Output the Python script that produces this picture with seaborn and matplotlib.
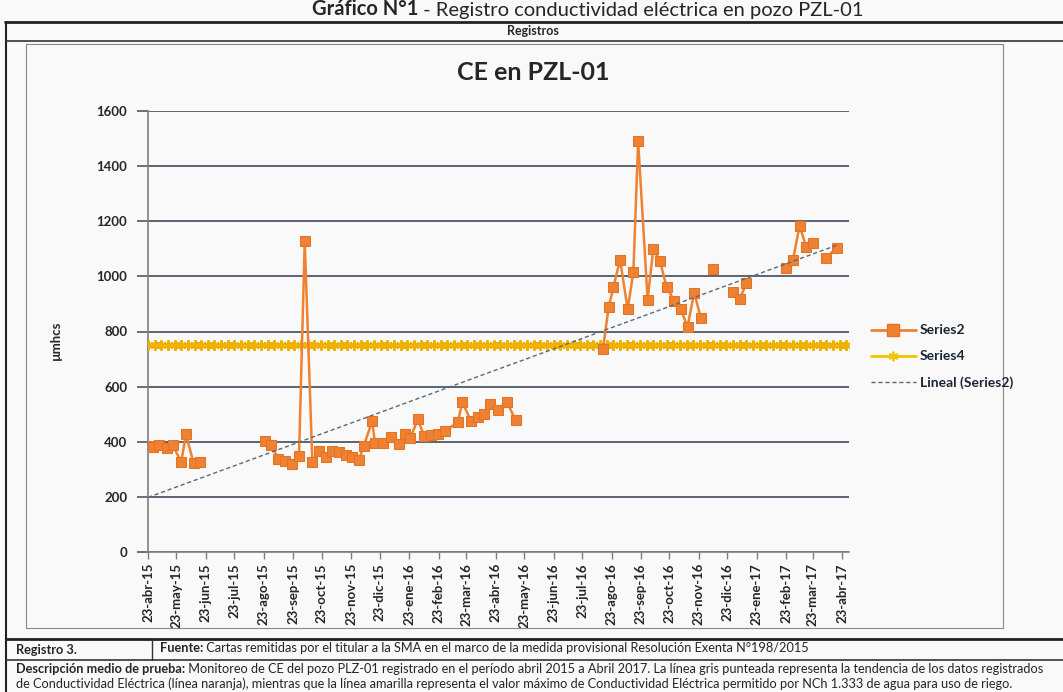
import numpy as np
import pandas as pd
import seaborn as sns
import matplotlib.pyplot as plt
import matplotlib.dates as mdates
from matplotlib.lines import Line2D

# ---------------------------------------------
# Datos (CE en umhos/cm)
# ---------------------------------------------
fechas_ce = [
    "2015-04-23", "2015-04-28", "2015-05-05", "2015-05-13", "2015-05-19",
    "2015-05-28", "2015-06-02", "2015-06-10", "2015-06-17",
    "2015-08-24", "2015-08-31", "2015-09-07", "2015-09-14", "2015-09-22",
    "2015-09-29", "2015-10-05", "2015-10-13", "2015-10-20", "2015-10-27",
    "2015-11-03", "2015-11-10", "2015-11-17", "2015-11-24", "2015-12-01",
    "2015-12-06", "2015-12-15", "2015-12-18", "2015-12-26", "2016-01-04",
    "2016-01-12", "2016-01-19", "2016-01-24", "2016-02-01", "2016-02-08",
    "2016-02-15", "2016-02-22", "2016-03-01", "2016-03-14", "2016-03-19",
    "2016-03-28", "2016-04-04", "2016-04-11", "2016-04-17", "2016-04-25",
    "2016-05-05", "2016-05-14",
    "2016-08-14", "2016-08-20", "2016-08-25", "2016-09-01", "2016-09-09",
    "2016-09-15", "2016-09-20", "2016-09-30", "2016-10-06", "2016-10-13",
    "2016-10-20", "2016-10-28", "2016-11-04", "2016-11-11", "2016-11-18",
    "2016-11-25",
    "2016-12-08",
    "2016-12-29", "2017-01-05", "2017-01-12",
    "2017-02-23", "2017-03-02", "2017-03-09", "2017-03-16", "2017-03-23",
    "2017-04-06", "2017-04-17",
]
ce_umhos = [
    384, 381, 387, 378, 387, 327, 427, 322, 326,
    403, 388, 337, 330, 321, 349, 1127, 328, 368, 343,
    367, 361, 351, 345, 333, 384, 474, 395, 397, 416,
    391, 428, 412, 481, 420, 425, 429, 440, 470, 543,
    476, 490, 499, 538, 517, 544, 478,
    738, 889, 961, 1061, 880, 1016, 1490, 916, 1100, 1055,
    961, 911, 880, 817, 941, 850,
    1025,
    943, 919, 975,
    1031, 1060, 1184, 1106, 1122,
    1067, 1104,
]
# tramos continuos de la serie (Excel deja huecos donde faltan datos)
tramo = [1] * 9 + [2] * 37 + [3] * 16 + [4] + [5] * 3 + [6] * 5 + [7] * 2

# Series4: valor maximo NCh 1.333 (registro semanal)
fechas_nch = pd.date_range("2015-04-23", periods=106, freq="7D")
nch_max = [750] * len(fechas_nch)

meses = ["ene", "feb", "mar", "abr", "may", "jun",
         "jul", "ago", "sep", "oct", "nov", "dic"]
ticks_fecha = pd.date_range("2015-04-23", "2017-04-23",
                            freq=pd.DateOffset(months=1))
ticks_y = [0, 200, 400, 600, 800, 1000, 1200, 1400, 1600]

naranja = "#ee8232"
amarillo = "#f5c400"
gris_tend = "#5b6876"
fondo = "#f9f9f9"

# ---------------------------------------------
# Figura
# ---------------------------------------------
sns.set_theme(style="white")
plt.rcParams["font.family"] = ["Lato", "DejaVu Sans"]

W, H = 1063, 692
def fx(px):
    return px / W
def fy(py):
    return 1 - py / H

fig = plt.figure(figsize=(10.63, 6.92), dpi=100, facecolor=fondo)
ax = fig.add_axes([fx(148), fy(552), fx(849) - fx(148), fy(111) - fy(552)])
ax.set_facecolor(fondo)

df_ce = pd.DataFrame({"fecha": pd.to_datetime(fechas_ce), "ce": ce_umhos,
                      "tramo": tramo})
df_nch = pd.DataFrame({"fecha": fechas_nch, "ce": nch_max})

# Series4 (amarilla)
sns.lineplot(data=df_nch, x="fecha", y="ce", color=amarillo, lw=2.4,
             marker=(6, 2, 0), markersize=7.5, mew=1.5, mec="#f0b000",
             ax=ax, zorder=3)

# Series2 (naranja)
sns.lineplot(data=df_ce, x="fecha", y="ce", units="tramo", estimator=None,
             color=naranja, lw=1.8, marker="s", markersize=7,
             mfc=naranja, mec="#e57422", ax=ax, zorder=4)

# Lineal (Series2): tendencia por minimos cuadrados
xnum = mdates.date2num(df_ce["fecha"])
m, b = np.polyfit(xnum, df_ce["ce"], 1)
x_tend = df_ce["fecha"].iloc[[0, -1]]
y_tend = m * mdates.date2num(x_tend) + b
sns.lineplot(x=x_tend, y=y_tend, color=gris_tend, lw=1.0,
             linestyle=(0, (3, 2)), ax=ax, zorder=5)

# ejes
ax.set_ylim(0, 1600)
ax.set_yticks(ticks_y)
ax.set_yticklabels([str(v) for v in ticks_y], fontweight="bold", fontsize=9.5)
ax.set_xlim(pd.Timestamp("2015-04-23"), pd.Timestamp("2017-04-30"))
ax.set_xticks(ticks_fecha)
ax.set_xticklabels([f"{d.day}-{meses[d.month - 1]}-{d:%y}" for d in ticks_fecha],
                   rotation=90, fontweight="bold", fontsize=9.5)
ax.grid(axis="y", color="#4e5964", lw=1.3)
ax.grid(axis="x", visible=False)
ax.tick_params(axis="y", direction="out", length=8, width=1.2,
               color="#4e5964", pad=7, left=True)
ax.tick_params(axis="x", direction="out", length=5, width=1,
               color="#7f7f7f", pad=3, bottom=True)
for s in ["top", "right"]:
    ax.spines[s].set_visible(False)
for s in ["left", "bottom"]:
    ax.spines[s].set_color("#7f7f7f")
    ax.spines[s].set_linewidth(1.2)
ax.set_xlabel("")
ax.set_ylabel("µmhcs", fontweight="bold", fontsize=9.5)
ax.yaxis.set_label_coords(-0.123, 0.48)

# leyenda
handles = [
    Line2D([], [], color=naranja, lw=2, marker="s", markersize=8, mfc=naranja,
           mec="#e57422"),
    Line2D([], [], color=amarillo, lw=2, marker=(6, 2, 0), markersize=7,
           mew=1.3),
    Line2D([], [], color=gris_tend, lw=1, linestyle=(0, (3, 2))),
]
leg = fig.legend(handles, ["Series2", "Series4", "Lineal (Series2)"],
                 loc="upper left", bbox_to_anchor=(fx(858), fy(312)),
                 frameon=False, handlelength=3.3, handletextpad=0.25,
                 labelspacing=1.0, numpoints=1,
                 prop={"weight": "bold", "size": 10})
for t in leg.get_texts():
    t.set_color("#1c2535")

# ---------------------------------------------
# Textos y marco del documento
# ---------------------------------------------
t1 = fig.text(fx(312), fy(15), "Gráfico N°1", fontsize=14.5,
              fontweight="bold", va="baseline", ha="left")
plt.annotate(" - Registro conductividad eléctrica en pozo PZL-01",
             xy=(1, 0), xycoords=t1, va="bottom", ha="left",
             fontsize=14.5, annotation_clip=False)
fig.text(fx(533), fy(31), "Registros", fontsize=9, fontweight="bold",
         ha="center", va="center")
fig.text(fx(533), fy(72), "CE en PZL-01", fontsize=18, fontweight="bold",
         ha="center", va="center")

lineas = [
    ((5, 1063), (22, 22), 2.0, "#222222"),
    ((6, 6), (22, 692), 1.5, "#222222"),
    ((6, 1063), (41, 41), 1.2, "#333333"),
    ((26, 1003), (44, 44), 0.8, "#888888"),
    ((26, 26), (44, 628), 0.8, "#888888"),
    ((1003, 1003), (44, 628), 0.8, "#888888"),
    ((26, 1003), (628, 628), 0.8, "#888888"),
    ((6, 1063), (639, 639), 2.0, "#222222"),
    ((6, 1063), (660, 660), 1.2, "#333333"),
    ((152, 152), (639, 660), 1.0, "#333333"),
]
for xs, ys, lw, c in lineas:
    fig.add_artist(Line2D([fx(xs[0]), fx(xs[1])], [fy(ys[0]), fy(ys[1])],
                          transform=fig.transFigure, lw=lw, color=c))

fs = 9.2
fig.text(fx(16), fy(654), "Registro 3.", fontsize=fs, fontweight="bold",
         va="baseline")
fu = fig.text(fx(160), fy(652), "Fuente:", fontsize=fs, fontweight="bold",
              va="baseline")
plt.annotate(" Cartas remitidas por el titular a la SMA en el marco de la medida "
             "provisional Resolución Exenta N°198/2015",
             xy=(1, 0), xycoords=fu, va="bottom", fontsize=fs,
             annotation_clip=False)
de = fig.text(fx(16), fy(673), "Descripción medio de prueba:", fontsize=fs,
              fontweight="bold", va="baseline")
plt.annotate(" Monitoreo de CE del pozo PLZ-01 registrado en el período abril "
             "2015 a Abril 2017. La línea gris punteada representa la tendencia "
             "de los datos registrados",
             xy=(1, 0), xycoords=de, va="bottom", fontsize=fs,
             annotation_clip=False)
fig.text(fx(16), fy(688), "de Conductividad Eléctrica (línea naranja), mientras "
         "que la línea amarilla representa el valor máximo de Conductividad "
         "Eléctrica permitido por NCh 1.333 de agua para uso de riego.",
         fontsize=fs, va="baseline")

fig.savefig("out.png", dpi=100, facecolor=fondo)
